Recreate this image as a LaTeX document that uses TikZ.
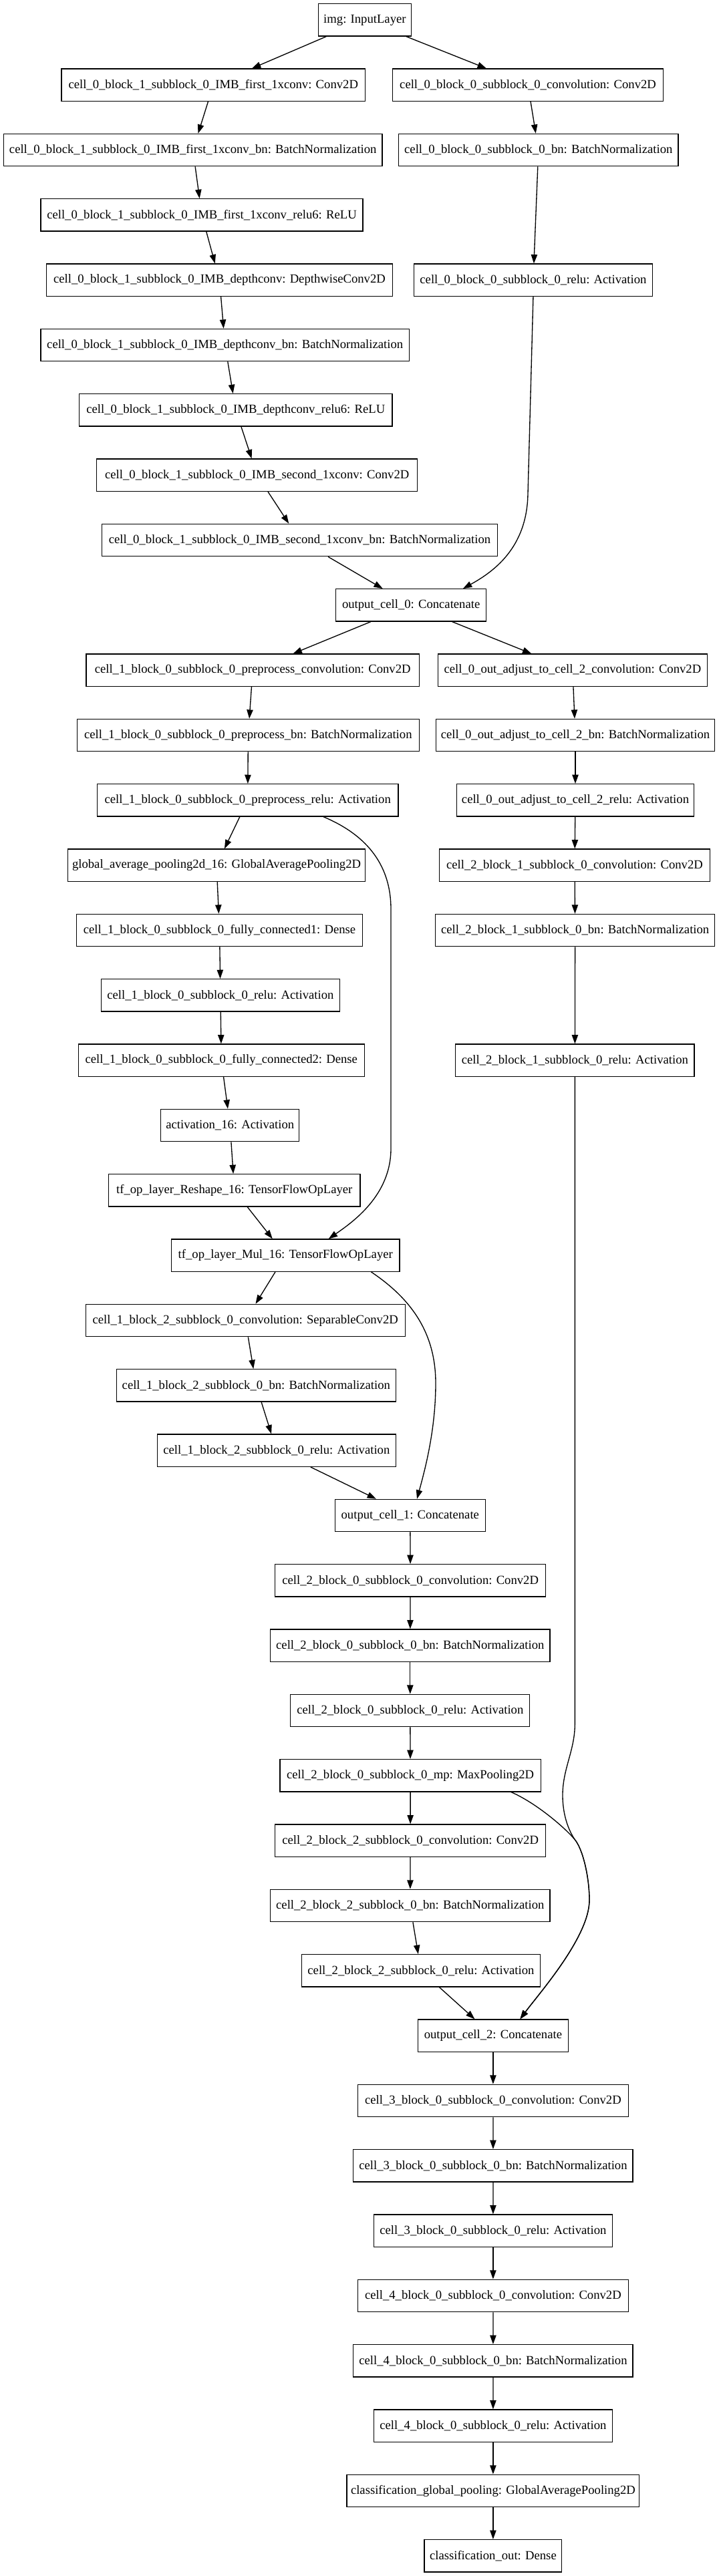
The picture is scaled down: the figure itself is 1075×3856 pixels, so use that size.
\documentclass[tikz,border=0pt]{standalone}
\usepackage{fontspec}
\setmainfont{Liberation Serif}
\usetikzlibrary{arrows.meta,calc}
\tikzset{
  lbox/.style={draw, line width=1pt, inner sep=0pt, minimum height=36.2pt,
    font=\fontsize{14pt}{16.8pt}\selectfont},
  arr/.style={line width=1pt, -{Triangle[length=10pt,width=7pt]}}
}
\newcommand{\lyr}[5]{\node[lbox,minimum width={(#3-#2)*0.75pt}] (#1) at ({(#2+#3)/2},{29.9+97.33*#4}) {#5};}
\begin{document}
\begin{tikzpicture}[x=0.75pt,y=-0.75pt]
\fill[white] (0,0) rectangle (1075,3856);
\useasboundingbox (0,0) rectangle (1075,3856);
% nodes
\lyr{img}{476.6}{615.2}{0}{img: InputLayer}
\lyr{c0b1conv}{91.9}{546.6}{1}{cell\_0\_block\_1\_subblock\_0\_IMB\_first\_1xconv: Conv2D}
\lyr{c0b0conv}{587.7}{992.4}{1}{cell\_0\_block\_0\_subblock\_0\_convolution: Conv2D}
\lyr{c0b1bn}{5.5}{572}{2}{cell\_0\_block\_1\_subblock\_0\_IMB\_first\_1xconv\_bn: BatchNormalization}
\lyr{c0b0bn}{596.6}{1015}{2}{cell\_0\_block\_0\_subblock\_0\_bn: BatchNormalization}
\lyr{c0b1relu}{61}{543}{3}{cell\_0\_block\_1\_subblock\_0\_IMB\_first\_1xconv\_relu6: ReLU}
\lyr{c0b1dw}{69.3}{587.7}{4}{cell\_0\_block\_1\_subblock\_0\_IMB\_depthconv: DepthwiseConv2D}
\lyr{c0b0relu}{619.3}{976.6}{4}{cell\_0\_block\_0\_subblock\_0\_relu: Activation}
\lyr{c0b1dwbn}{61}{612.4}{5}{cell\_0\_block\_1\_subblock\_0\_IMB\_depthconv\_bn: BatchNormalization}
\lyr{c0b1dwrelu}{118.6}{587}{6}{cell\_0\_block\_1\_subblock\_0\_IMB\_depthconv\_relu6: ReLU}
\lyr{c0b1convb}{144.7}{624.8}{7}{cell\_0\_block\_1\_subblock\_0\_IMB\_second\_1xconv: Conv2D}
\lyr{c0b1bnb}{152.2}{744.8}{8}{cell\_0\_block\_1\_subblock\_0\_IMB\_second\_1xconv\_bn: BatchNormalization}
\lyr{oc0}{502.7}{727.6}{9}{output\_cell\_0: Concatenate}
\lyr{c1ppconv}{128.9}{627.5}{10}{cell\_1\_block\_0\_subblock\_0\_preprocess\_convolution: Conv2D}
\lyr{adjconv}{655.6}{1058.2}{10}{cell\_0\_out\_adjust\_to\_cell\_2\_convolution: Conv2D}
\lyr{c1ppbn}{115.2}{627.5}{11}{cell\_1\_block\_0\_subblock\_0\_preprocess\_bn: BatchNormalization}
\lyr{adjbn}{652.2}{1069.8}{11}{cell\_0\_out\_adjust\_to\_cell\_2\_bn: BatchNormalization}
\lyr{c1pprelu}{145.4}{596}{12}{cell\_1\_block\_0\_subblock\_0\_preprocess\_relu: Activation}
\lyr{adjrelu}{683.7}{1038.3}{12}{cell\_0\_out\_adjust\_to\_cell\_2\_relu: Activation}
\lyr{gap}{101.5}{546.6}{13}{global\_average\_pooling2d\_16: GlobalAveragePooling2D}
\lyr{c2b1conv}{657.7}{1062.3}{13}{cell\_2\_block\_1\_subblock\_0\_convolution: Conv2D}
\lyr{fca}{114.5}{542.5}{14}{cell\_1\_block\_0\_subblock\_0\_fully\_connected1: Dense}
\lyr{c2b1bn}{651.5}{1069.8}{14}{cell\_2\_block\_1\_subblock\_0\_bn: BatchNormalization}
\lyr{c1relu}{151.6}{508.2}{15}{cell\_1\_block\_0\_subblock\_0\_relu: Activation}
\lyr{fcb}{117.3}{545.2}{16}{cell\_1\_block\_0\_subblock\_0\_fully\_connected2: Dense}
\lyr{c2b1relu}{681.7}{1039}{16}{cell\_2\_block\_1\_subblock\_0\_relu: Activation}
\lyr{act}{240.7}{447.8}{17}{activation\_16: Activation}
\lyr{reshape}{162.5}{539}{18}{tf\_op\_layer\_Reshape\_16: TensorFlowOpLayer}
\lyr{mul}{256.5}{598}{19}{tf\_op\_layer\_Mul\_16: TensorFlowOpLayer}
\lyr{sepconv}{128.2}{606.2}{20}{cell\_1\_block\_2\_subblock\_0\_convolution: SeparableConv2D}
\lyr{sepbn}{174.2}{592.5}{21}{cell\_1\_block\_2\_subblock\_0\_bn: BatchNormalization}
\lyr{seprelu}{235.2}{592.5}{22}{cell\_1\_block\_2\_subblock\_0\_relu: Activation}
\lyr{oc1}{501.3}{726.3}{23}{output\_cell\_1: Concatenate}
\lyr{c2b0conv}{411.5}{816.8}{24}{cell\_2\_block\_0\_subblock\_0\_convolution: Conv2D}
\lyr{c2b0bn}{404.6}{823}{25}{cell\_2\_block\_0\_subblock\_0\_bn: BatchNormalization}
\lyr{c2b0relu}{434.8}{792.8}{26}{cell\_2\_block\_0\_subblock\_0\_relu: Activation}
\lyr{mp}{419}{809.2}{27}{cell\_2\_block\_0\_subblock\_0\_mp: MaxPooling2D}
\lyr{c2b2conv}{411.5}{816.8}{28}{cell\_2\_block\_2\_subblock\_0\_convolution: Conv2D}
\lyr{c2b2bn}{404.6}{823}{29}{cell\_2\_block\_2\_subblock\_0\_bn: BatchNormalization}
\lyr{c2b2relu}{451.3}{808.6}{30}{cell\_2\_block\_2\_subblock\_0\_relu: Activation}
\lyr{oc2}{625.4}{850.4}{31}{output\_cell\_2: Concatenate}
\lyr{c3conv}{535.6}{940.2}{32}{cell\_3\_block\_0\_subblock\_0\_convolution: Conv2D}
\lyr{c3bn}{528.8}{947.1}{33}{cell\_3\_block\_0\_subblock\_0\_bn: BatchNormalization}
\lyr{c3relu}{559.6}{916.2}{34}{cell\_3\_block\_0\_subblock\_0\_relu: Activation}
\lyr{c4conv}{535.6}{940.2}{35}{cell\_4\_block\_0\_subblock\_0\_convolution: Conv2D}
\lyr{c4bn}{528.8}{947.1}{36}{cell\_4\_block\_0\_subblock\_0\_bn: BatchNormalization}
\lyr{c4relu}{559.6}{916.2}{37}{cell\_4\_block\_0\_subblock\_0\_relu: Activation}
\lyr{clspool}{519.1}{956.7}{38}{classification\_global\_pooling: GlobalAveragePooling2D}
\lyr{clsout}{635}{840.8}{39}{classification\_out: Dense}
% straight connectors
\foreach \a/\b in {img/c0b1conv, img/c0b0conv, c0b1conv/c0b1bn, c0b1bn/c0b1relu,
  c0b1relu/c0b1dw, c0b1dw/c0b1dwbn, c0b1dwbn/c0b1dwrelu, c0b1dwrelu/c0b1convb,
  c0b1convb/c0b1bnb, c0b1bnb/oc0, c0b0conv/c0b0bn, c0b0bn/c0b0relu,
  oc0/c1ppconv, oc0/adjconv, c1ppconv/c1ppbn, c1ppbn/c1pprelu, c1pprelu/gap,
  gap/fca, fca/c1relu, c1relu/fcb, fcb/act, act/reshape, reshape/mul,
  mul/sepconv, sepconv/sepbn, sepbn/seprelu, seprelu/oc1,
  oc1/c2b0conv, c2b0conv/c2b0bn, c2b0bn/c2b0relu, c2b0relu/mp, mp/c2b2conv,
  c2b2conv/c2b2bn, c2b2bn/c2b2relu, c2b2relu/oc2,
  adjconv/adjbn, adjbn/adjrelu, adjrelu/c2b1conv, c2b1conv/c2b1bn, c2b1bn/c2b1relu,
  oc2/c3conv, c3conv/c3bn, c3bn/c3relu, c3relu/c4conv, c4conv/c4bn, c4bn/c4relu,
  c4relu/clspool, clspool/clsout}
  \draw[arr] (\a) -- (\b);
% curved connectors
\draw[arr] (c0b0relu.south) -- ($(c0b0relu.south)+(-8,297)$)
  .. controls +(-2,80) and +(45,-25) .. ($(oc0.north)+(77.8,0)$);
\draw[arr] ($(c1pprelu.south)+(113.3,0)$)
  .. controls +(60,25) and +(0,-70) .. ($(c1pprelu.south)+(214.3,138)$)
  -- ($(mul.north)+(157.75,-135)$)
  .. controls +(0,70) and +(36,-25) .. ($(mul.north)+(64.5,0)$);
\draw[arr] ($(mul.south)+(128.25,0)$)
  .. controls +(55,37) and +(0,-80) .. ($(mul.south)+(224.75,166.5)$)
  .. controls +(0,70) and +(12,-44) .. ($(oc1.north)+(10.2,0)$);
\coordinate (m2) at ($(mp.south)+(245.9,70.7)$);
\draw[arr] ($(mp.south)+(150.9,0)$)
  .. controls +(35,15) and +(-17,-20) .. (m2)
  .. controls +(12,14) and +(0,-35) .. ($(oc2.north)+(144.1,-178)$)
  .. controls +(0,55) and +(28,-38) .. ($(oc2.north)+(40.5,0)$);
\draw[arr] (c2b1relu.south) -- ($(m2)+(0.35,-173)$)
  .. controls +(0,40) and +(0,-40) .. ($(m2)+(-18,-66)$)
  .. controls +(0,28) and +(-10,-15) .. (m2)
  .. controls +(12,14) and +(0,-35) .. ($(oc2.north)+(144.1,-178)$)
  .. controls +(0,55) and +(28,-38) .. ($(oc2.north)+(40.5,0)$);
\end{tikzpicture}
\end{document}
